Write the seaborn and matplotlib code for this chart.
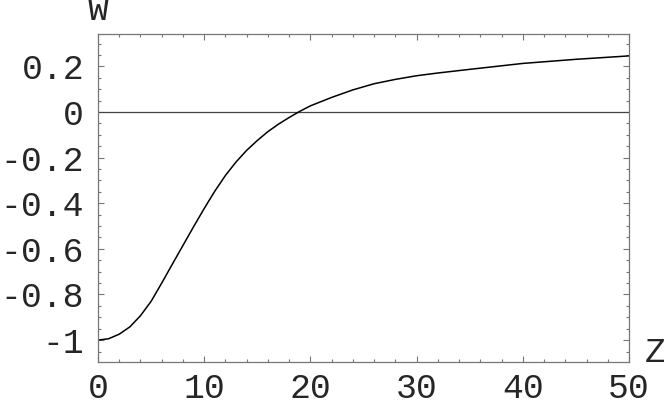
import matplotlib
matplotlib.use("Agg")
import matplotlib.pyplot as plt
import seaborn as sns
import pandas as pd
from matplotlib.ticker import MultipleLocator, FixedLocator

# curve values
z = [0, 1, 2, 3, 4, 5, 6, 7, 8, 9, 10, 11, 12, 13, 14, 15, 16, 17, 18, 19,
     20, 22, 24, 26, 28, 30, 32, 35, 40, 45, 50]
w = [-1.0, -0.994, -0.974, -0.942, -0.893, -0.830, -0.750, -0.667, -0.585,
     -0.503, -0.423, -0.347, -0.278, -0.219, -0.168, -0.125, -0.086, -0.053,
     -0.024, 0.003, 0.027, 0.064, 0.097, 0.124, 0.143, 0.159, 0.171, 0.187,
     0.213, 0.231, 0.246]

yticks = [0.2, 0, -0.2, -0.4, -0.6, -0.8, -1]
ytick_labels = ["0.2", "0", "-0.2", "-0.4", "-0.6", "-0.8", "-1"]
xticks = [0, 10, 20, 30, 40, 50]
xtick_labels = ["0", "10", "20", "30", "40", "50"]

df = pd.DataFrame({"z": z, "W": w})

sns.set_style("ticks")
plt.rcParams["font.family"] = ["Liberation Mono", "DejaVu Sans Mono"]

fig = plt.figure(figsize=(6.64, 4.0), dpi=100)
ax = fig.add_axes([98 / 664, 38 / 400, 531 / 664, 328 / 400])

ax.axhline(0, color="#444444", lw=0.9, zorder=1)
sns.lineplot(data=df, x="z", y="W", ax=ax, color="black", lw=1.1, zorder=2)

ax.set_xlim(0, 50)
ax.set_ylim(-1.096, 0.342)

ax.xaxis.set_major_locator(FixedLocator(xticks))
ax.set_xticklabels(xtick_labels)
ax.xaxis.set_minor_locator(MultipleLocator(2))
ax.yaxis.set_major_locator(FixedLocator(yticks))
ax.set_yticklabels(ytick_labels)
ax.yaxis.set_minor_locator(MultipleLocator(0.05))

ax.tick_params(which="both", direction="in", top=True, right=True,
               color="#777777", width=0.8)
ax.tick_params(which="major", length=4, labelsize=25)
ax.tick_params(axis="y", which="major", pad=10)
ax.tick_params(axis="x", which="major", pad=7)
ax.tick_params(which="minor", length=2)
for s in ax.spines.values():
    s.set_color("#777777")
    s.set_linewidth(0.9)

ax.set_xlabel("")
ax.set_ylabel("")
fig.text(98 / 664, 1 - 10 / 400, "W", fontsize=25, ha="center", va="center")
fig.text(655 / 664, 1 - 352 / 400, "Z", fontsize=25, ha="center", va="center")

fig.savefig("out.png", dpi=100)
